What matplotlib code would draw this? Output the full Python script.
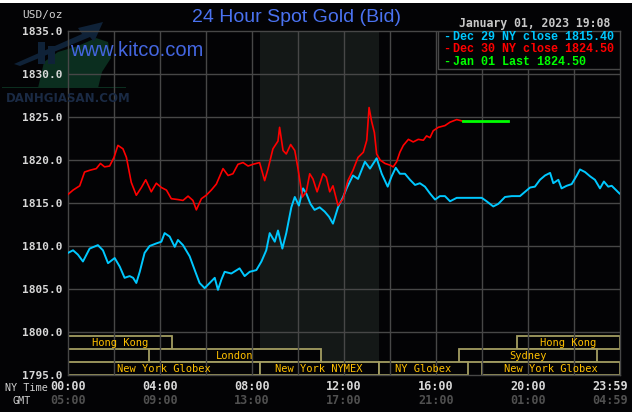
import matplotlib
matplotlib.use("Agg")
import matplotlib.pyplot as plt
from matplotlib.patches import Rectangle, Polygon

# --- data (hours since 00:00 NY time, USD/oz) ---
red_t = [0, 0.22, 0.51, 0.72, 0.94, 1.23, 1.41, 1.59, 1.81, 2.0, 2.17, 2.39, 2.54, 2.75,
         2.97, 3.19, 3.38, 3.62, 3.84, 4.06, 4.28, 4.49, 4.78, 5.0, 5.22, 5.43, 5.58, 5.8,
         6.01, 6.23, 6.45, 6.74, 6.96, 7.17, 7.39, 7.61, 7.83, 8.04, 8.33, 8.55, 8.7, 8.91,
         9.13, 9.2, 9.35, 9.49, 9.68, 9.86, 10.0, 10.19, 10.36, 10.51, 10.65, 10.83, 11.09,
         11.23, 11.38, 11.52, 11.74, 11.96, 12.17, 12.39, 12.61, 12.84, 12.99, 13.09, 13.2,
         13.32, 13.42, 13.57, 13.78, 14.0, 14.14, 14.29, 14.43, 14.58, 14.8, 15.01, 15.23,
         15.45, 15.59, 15.74, 15.88, 16.1, 16.39, 16.61, 16.9, 17.19]
red_v = [1816.0, 1816.5, 1817.0, 1818.6, 1818.8, 1819.0, 1819.6, 1819.2, 1819.3, 1820.3,
         1821.7, 1821.3, 1820.3, 1817.4, 1815.9, 1816.8, 1817.7, 1816.3, 1817.3, 1816.8,
         1816.5, 1815.5, 1815.4, 1815.3, 1815.8, 1815.3, 1814.2, 1815.5, 1815.9, 1816.5,
         1817.2, 1819.0, 1818.2, 1818.4, 1819.5, 1819.7, 1819.3, 1819.5, 1819.7, 1817.6,
         1819.0, 1821.3, 1822.2, 1823.8, 1821.1, 1820.7, 1821.8, 1821.1, 1819.0, 1815.7,
         1816.3, 1818.4, 1817.8, 1816.3, 1818.4, 1818.0, 1816.3, 1817.0, 1814.7, 1815.5,
         1817.6, 1818.8, 1820.3, 1820.9, 1822.3, 1826.1, 1824.5, 1823.2, 1820.7, 1820.0,
         1819.6, 1819.4, 1819.2, 1819.8, 1820.9, 1821.7, 1822.4, 1822.1, 1822.4, 1822.3,
         1822.8, 1822.6, 1823.4, 1823.8, 1824.0, 1824.4, 1824.7, 1824.5]

cyan_t = [0, 0.22, 0.43, 0.65, 0.94, 1.30, 1.52, 1.74, 2.03, 2.25, 2.46, 2.68, 2.83, 2.97,
          3.12, 3.33, 3.55, 3.84, 4.06, 4.20, 4.42, 4.64, 4.78, 5.0, 5.29, 5.51, 5.72, 5.94,
          6.16, 6.38, 6.52, 6.67, 6.81, 7.10, 7.46, 7.68, 7.90, 8.19, 8.41, 8.62, 8.77, 8.99,
          9.13, 9.32, 9.49, 9.71, 9.86, 10.04, 10.22, 10.36, 10.54, 10.72, 10.94, 11.16,
          11.35, 11.52, 11.74, 11.96, 12.13, 12.39, 12.61, 12.91, 13.13, 13.42, 13.64, 13.9,
          14.07, 14.25, 14.43, 14.65, 14.87, 15.09, 15.30, 15.52, 15.74, 15.96, 16.17, 16.39,
          16.61, 16.9, 17.99, 18.2, 18.49, 18.71, 19.0, 19.29, 19.65, 19.87, 20.09, 20.3,
          20.52, 20.74, 20.96, 21.1, 21.32, 21.46, 21.68, 21.9, 22.12, 22.26, 22.48, 22.7,
          22.91, 23.13, 23.3, 23.49, 23.64, 23.98]
cyan_v = [1809.2, 1809.5, 1809.0, 1808.2, 1809.7, 1810.1, 1809.5, 1808.0, 1808.6, 1807.6,
          1806.3, 1806.5, 1806.3, 1805.7, 1807.0, 1809.2, 1810.0, 1810.3, 1810.5, 1811.5,
          1811.1, 1809.9, 1810.7, 1810.1, 1808.8, 1807.2, 1805.7, 1805.1, 1805.7, 1806.3,
          1804.9, 1806.1, 1807.0, 1806.8, 1807.4, 1806.5, 1807.0, 1807.2, 1808.2, 1809.5,
          1811.5, 1810.5, 1811.8, 1809.7, 1811.5, 1814.5, 1815.7, 1814.7, 1816.7, 1816.1,
          1814.9, 1814.2, 1814.5, 1814.0, 1813.4, 1812.6, 1814.5, 1815.7, 1816.8, 1818.2,
          1817.8, 1819.8, 1819.0, 1820.2, 1818.4, 1816.9, 1818.1, 1819.1, 1818.4, 1818.4,
          1817.7, 1817.1, 1817.3, 1816.9, 1816.1, 1815.4, 1815.8, 1815.8, 1815.2, 1815.6,
          1815.6, 1815.2, 1814.6, 1814.9, 1815.7, 1815.8, 1815.8, 1816.3, 1816.8, 1816.9,
          1817.7, 1818.2, 1818.5, 1817.3, 1817.7, 1816.7, 1817.0, 1817.2, 1818.2, 1818.9,
          1818.6, 1818.1, 1817.7, 1816.7, 1817.5, 1816.9, 1817.0, 1816.1]

last_t = [17.19, 19.13]
last_v = [1824.5, 1824.5]

legend_labels = ["Dec 29 NY close 1815.40", "Dec 30 NY close 1824.50", "Jan 01 Last 1824.50"]
legend_colors = ["#00c8ff", "#ff0000", "#00ff00"]

ny_ticks = [0, 4, 8, 12, 16, 20, 23.57]
ny_labels = ["00:00", "04:00", "08:00", "12:00", "16:00", "20:00", "23:59"]
gmt_labels = ["05:00", "09:00", "13:00", "17:00", "21:00", "01:00", "04:59"]

y_ticks = [1795, 1800, 1805, 1810, 1815, 1820, 1825, 1830, 1835]

# market sessions: name, start, end, row (0 = top)
sess_names = ["Hong Kong", "Hong Kong", "London", "Sydney",
              "New York Globex", "New York NYMEX", "NY Globex", "New York Globex"]
sess_start = [0, 19.5, 3.5, 17.0, 0, 8.33, 13.5, 18.0]
sess_end = [4.5, 24, 11.0, 23.0, 8.33, 13.5, 17.4, 24]
sess_row = [0, 0, 1, 1, 2, 2, 2, 2]

W, H = 634, 417
BG = "#030305"


def px(pts):
    # pixel coords (from top-left) -> figure fraction
    return [(x / W, 1 - y / H) for x, y in pts]


fig = plt.figure(figsize=(W / 100, H / 100), dpi=100, facecolor="white")
fig.patches.append(Rectangle((0, 1 - 412 / H), 632 / W, 409 / H, transform=fig.transFigure,
                             facecolor=BG, edgecolor="none", zorder=-10))

# faint watermark logo (kept behind the axes)
logo = dict(transform=fig.transFigure, edgecolor="none", zorder=-9)
fig.patches.append(Polygon(px([(38, 88), (44, 62), (58, 52), (78, 46), (96, 38), (108, 42),
                               (111, 58), (102, 72), (98, 88)]), facecolor="#0b2e1f", **logo))
fig.patches.append(Rectangle((2 / W, 1 - 88 / H), 124 / W, 1.5 / H, facecolor="#0b2e1f", **logo))
fig.patches.append(Polygon(px([(14, 64), (82, 34), (78, 28), (103, 22), (94, 42), (90, 37),
                               (20, 66)]), facecolor="#0f2238", **logo))
for bx, by in [(38, 42), (48, 46)]:
    fig.patches.append(Rectangle((bx / W, 1 - 64 / H), 7 / W, (64 - by) / H,
                                 facecolor="#0f2238", **logo))

ax = fig.add_axes([68 / W, 1 - 375 / H, 552 / W, 344 / H])
ax.set_facecolor("none")
ax.set_xlim(0, 24)
ax.set_ylim(1795, 1835)

grid_c = "#474747"
for s in ax.spines.values():
    s.set_color(grid_c)
    s.set_linewidth(1.0)

# NYMEX open shading
ax.axvspan(8.33, 13.5, color="#141817", zorder=0, lw=0)

# session boxes
row_h = 1.5
for name, a, b, r in zip(sess_names, sess_start, sess_end, sess_row):
    y0 = 1795 + (2 - r) * row_h
    ax.add_patch(Rectangle((a, y0), b - a, row_h, facecolor=BG,
                           edgecolor="#a39d62", lw=1.3, zorder=1))
    ax.text((a + b) / 2, y0 + row_h / 2, name, color="#ffc000", ha="center", va="center",
            family="DejaVu Sans Mono", fontsize=7.5, zorder=4)

# grid
for x in range(2, 24, 2):
    ax.axvline(x, color=grid_c, lw=1.0, zorder=2)
for y in y_ticks[1:-1]:
    ax.axhline(y, color=grid_c, lw=1.0, zorder=2)

ax.plot(cyan_t, cyan_v, color=legend_colors[0], lw=1.4, zorder=3)
ax.plot(red_t, red_v, color=legend_colors[1], lw=1.2, zorder=3)
ax.plot(last_t, last_v, color=legend_colors[2], lw=2.0, zorder=3)

# ticks
ax.set_yticks(y_ticks)
ax.set_yticklabels([f"{v:.1f}" for v in y_ticks], family="DejaVu Sans Mono",
                   fontweight="bold", fontsize=8, color="#d8d8d8")
ax.tick_params(axis="y", length=0, pad=4)
ax.set_xticks([])
xt = ax.get_xaxis_transform()
for t, a, g in zip(ny_ticks, ny_labels, gmt_labels):
    ax.text(t, -0.032, a, transform=xt, ha="center", va="center", color="#d8d8d8",
            family="DejaVu Sans Mono", fontweight="bold", fontsize=8.5)
    ax.text(t, -0.073, g, transform=xt, ha="center", va="center", color="#505050",
            family="DejaVu Sans Mono", fontweight="bold", fontsize=8.5)

# legend box
ax.add_patch(Rectangle((0.67, 0.8895), 0.33, 0.1105, transform=ax.transAxes,
                       facecolor=BG, edgecolor=grid_c, lw=1.0, zorder=5))
for i, (lab, c) in enumerate(zip(legend_labels, legend_colors)):
    yy = 1 - [37, 49, 62][i] / H
    fig.text(443 / W, yy, "-", color=c, family="Liberation Mono", fontweight="bold",
             fontsize=8.5, va="center", zorder=6)
    fig.text(453 / W, yy, lab, color=c, family="Liberation Mono", fontweight="bold",
             fontsize=8.5, va="center", zorder=6)

# header texts
fig.text(297 / W, 1 - 18 / H, "24 Hour Spot Gold (Bid)", color="#4a72f0",
         family="Liberation Sans", fontsize=14, ha="center", va="center")
fig.text(610 / W, 1 - 23 / H, "January 01, 2023 19:08", color="#c8c8c8",
         family="DejaVu Sans Mono", fontweight="bold", fontsize=8.3, ha="right", va="center")
fig.text(63 / W, 1 - 15 / H, "USD/oz", color="#d0d0d0", family="DejaVu Sans Mono",
         fontsize=8, ha="right", va="center")
fig.text(70 / W, 1 - 51 / H, "www.kitco.com", color="#4466e0", family="Liberation Sans",
         fontsize=14.5, ha="left", va="center")
fig.text(6 / W, 1 - 99 / H, "DANHGIASAN.COM", color="#1a2a44", family="DejaVu Sans",
         fontweight="bold", fontsize=8.5, ha="left", va="center")
fig.text(5 / W, 1 - 388 / H, "NY Time", color="#d0d0d0", family="DejaVu Sans Mono",
         fontsize=7.3, ha="left", va="center")
fig.text(22 / W, 1 - 401 / H, "GMT", color="#d0d0d0", family="DejaVu Sans Mono",
         fontsize=7.3, ha="center", va="center")

fig.savefig("out.png", dpi=100, facecolor="white")
